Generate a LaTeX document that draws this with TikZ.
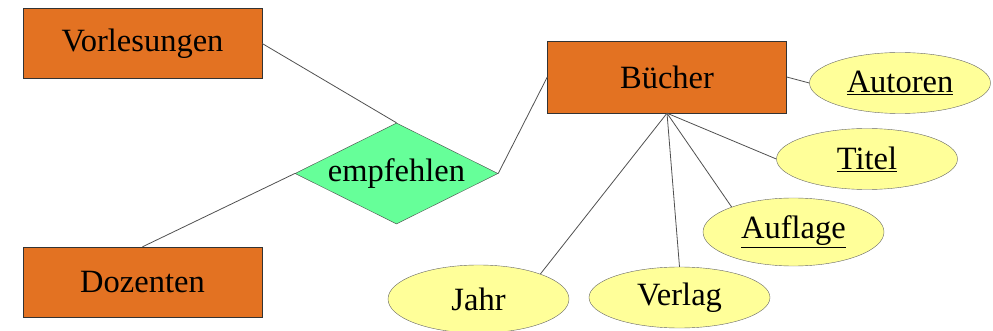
\documentclass[tikz,border=0pt]{standalone}
\usepackage{fontspec}
\setmainfont{Liberation Serif}
\usetikzlibrary{shapes.geometric}
\definecolor{entityfill}{RGB}{227,114,34}
\definecolor{relfill}{RGB}{102,255,153}
\definecolor{attrfill}{RGB}{255,255,153}
\definecolor{edgegray}{RGB}{80,80,80}
\tikzset{
  entity/.style={rectangle, draw=black!80, fill=entityfill, minimum width=239pt, minimum height=70pt, inner sep=0pt},
  relation/.style={diamond, draw=black!70, fill=relfill, aspect=2, minimum width=203pt, minimum height=101pt, inner sep=0pt},
  attrib/.style={ellipse, draw=black!60, fill=attrfill, minimum width=181pt, minimum height=61pt, inner sep=0pt},
  link/.style={draw=edgegray, line width=0.8pt}
}
\begin{document}
\begin{tikzpicture}[x=1pt, y=-1pt, font=\fontsize{32.5}{38}\selectfont]
	  \useasboundingbox (0,0) rectangle (993,331);
	  \node[entity] (vorl) at (142.5,43.5) {Vorlesungen};
	  \node[entity] (doz) at (142.5,282) {Dozenten};
	  \node[relation] (empf) at (396.5,173.5) {empfehlen};
	  \node[entity, minimum height=72pt] (buch) at (667,77) {B\"ucher};
	  \node[attrib] (aut) at (900,83) {\underline{Autoren}};
	  \node[attrib] (tit) at (867,159) {\underline{Titel}};
	  \node[attrib, minimum height=68pt] (aufl) at (793.5,232) {\underline{Auflage}};
	  \node[attrib] (verl) at (679.5,297.5) {Verlag};
	  \node[attrib, minimum height=68pt] (jahr) at (478.5,299) {Jahr};
	  
	  \draw[link] (vorl.east) -- (empf.north);
	  \draw[link] (doz.north) -- (empf.west);
	  \draw[link] (empf.east) -- (buch.west);
	  \draw[link] (buch.east) -- (aut.west);
	  \draw[link] (buch.south) -- (tit.west);
	  \draw[link] (buch.south) -- (aufl.158);
	  \draw[link] (buch.south) -- (verl.north);
	  \draw[link] (buch.south) -- (jahr.22);
	\end{tikzpicture}
\end{document}
